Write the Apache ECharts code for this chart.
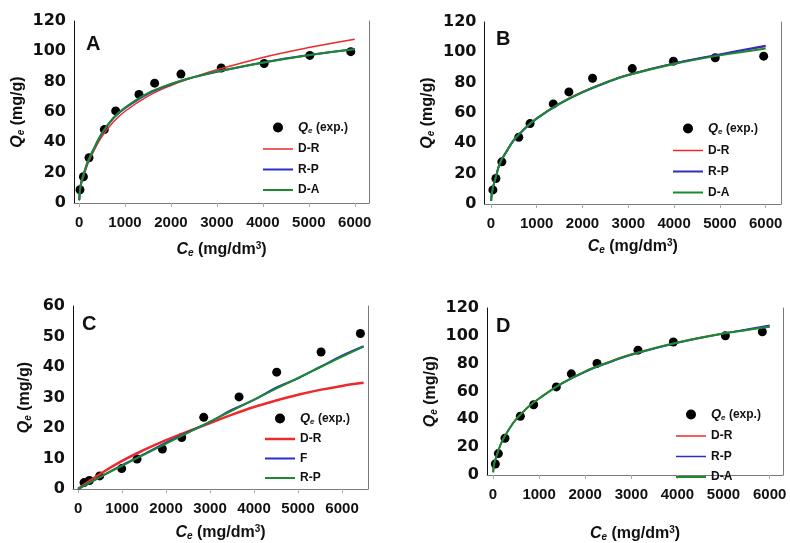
<!DOCTYPE html>
<html>
<head>
<meta charset="utf-8">
<script src="https://cdn.jsdelivr.net/npm/echarts@6/dist/echarts.min.js"></script>
<style>
  html, body { margin: 0; padding: 0; background: #fff; }
  #root { width: 790px; height: 543px; }
</style>
</head>
<body>
<div id="root"></div>
<script>
// tick labels
const ceTicks = [0, 1000, 2000, 3000, 4000, 5000, 6000]
const q120Ticks = [0, 20, 40, 60, 80, 100, 120]
const q60Ticks = [0, 10, 20, 30, 40, 50, 60]

// panel A
const aExpCe = [20, 95, 217, 550, 797, 1304, 1645, 2217, 3094, 4029, 5022, 5913]
const aExpQe = [8.7, 17.3, 29.8, 48.4, 60.7, 71.6, 79, 85, 89, 92, 97.3, 99.8]
const aFitCe = [5, 20, 50, 100, 200, 350, 500, 750, 1000, 1500, 2000, 2500, 3000, 4000, 5000, 6000]
const aDR = [1.5, 7.5, 12.5, 17.5, 26.5, 36, 44, 53.5, 60.5, 70.5, 77.5, 83, 87.8, 96, 102.5, 108]
const aRP = [2, 8.5, 14, 19, 28, 37.5, 46, 56, 62.5, 72, 78.3, 83, 86.5, 92.7, 97.6, 101.6]
const aDA = [2.2, 9, 14, 19, 28, 37.5, 46.2, 56.3, 63, 72.5, 78.5, 83, 86.7, 92.5, 97.4, 101.3]

// panel B
const bExpCe = [43, 109, 239, 609, 855, 1362, 1703, 2220, 3087, 3986, 4899, 5957]
const bExpQe = [9.3, 16.8, 27.8, 44, 53, 66, 73.9, 82.9, 89.3, 94.2, 96.4, 97.5]
const bFitCe = [5, 20, 50, 100, 200, 350, 500, 750, 1000, 1500, 2000, 2500, 3000, 4000, 5000, 6000]
const bDR = [2, 7, 11.5, 17, 27, 35, 42, 50, 56.5, 66.3, 74, 80.2, 85.3, 92.8, 98.6, 103.8]
const bRP = [2, 7, 11.5, 17, 27, 35, 42, 50, 56.3, 66, 73.6, 79.8, 85, 92.6, 98.6, 104.4]
const bDA = [2, 7, 11.5, 17, 27.2, 35.2, 42.2, 50.2, 56.5, 66.2, 73.8, 80, 85, 92.3, 98, 102.6]

// panel C
const cExpCe = [136, 258, 492, 992, 1341, 1917, 2356, 2856, 3659, 4515, 5523, 6417]
const cExpQe = [2.1, 2.8, 4.3, 6.7, 9.8, 13.1, 16.9, 23.5, 30.2, 38.3, 44.9, 51]
const cFitCe = [0, 500, 1000, 1500, 2000, 2500, 3000, 3500, 4000, 4500, 5000, 5500, 6000, 6490]
const cDR = [0, 4.9, 9.2, 12.8, 16, 18.9, 21.6, 24.4, 26.9, 29, 30.9, 32.5, 33.8, 34.8]
const cF = [0, 3.9, 7.8, 11.4, 15.2, 18.6, 22.0, 26.0, 29.2, 33.2, 36.3, 40.0, 43.7, 46.8]
const cRP = [0, 3.9, 7.6, 11.3, 14.9, 18.5, 22.1, 25.7, 29.3, 32.9, 36.4, 39.9, 43.4, 46.7]

// panel D
const dExpCe = [51, 116, 260, 593, 882, 1374, 1699, 2256, 3145, 3912, 5040, 5842]
const dExpQe = [7.9, 15.4, 26.4, 42.2, 50.5, 63.3, 72.7, 80.2, 89.7, 95.6, 100, 102.9]
const dFitCe = [5, 20, 50, 100, 200, 350, 500, 750, 1000, 1500, 2000, 2500, 3000, 4000, 5000, 6000]
const dDR = [2, 7, 11, 16, 24.5, 33, 40, 48.5, 55, 66, 74.5, 81, 86.7, 95.3, 101.8, 106.6]
const dRP = [2, 7, 11, 16, 24.5, 33, 40, 48.5, 54.8, 65.6, 74, 80.5, 86.2, 94.8, 101.6, 107.6]
const dDA = [2, 7, 11, 16, 24.5, 33, 40, 48.5, 55, 66, 74.5, 81, 86.6, 95.2, 101.6, 106.6]

const FONT = '"Liberation Sans", Arial, sans-serif'
const RED = '#ec2a2c'
const BLUE = '#2c2ec8'
const GREEN = '#1b8a2c'
const FRAME = '#7a7a7a'

const zip = (xs, ys) => xs.map((x, i) => [x, ys[i]])
// legend line icon: a bar 30 px wide and w px thick once fitted into 30x10
const lineIcon = w => 'path://M0,0L' + (60 / w).toFixed(2) + ',0L' + (60 / w).toFixed(2) + ',2L0,2Z'

const panels = [
  { key: 'A', grid: { left: 74, top: 21, width: 295, height: 182 }, xMin: -110, xMax: 6310, yMax: 120, yTicks: q120Ticks,
    letter: [86, 34], legend: [263, 121], legendGap: 8.5, nameGap: 38,
    exp: zip(aExpCe, aExpQe),
    fits: [['D-R', zip(aFitCe, aDR), RED, 1.5], ['R-P', zip(aFitCe, aRP), BLUE, 2], ['D-A', zip(aFitCe, aDA), GREEN, 2]] },
  { key: 'B', grid: { left: 484.5, top: 22, width: 296.5, height: 182 }, xMin: -140, xMax: 6335, yMax: 120, yTicks: q120Ticks,
    letter: [496, 29], legend: [673, 122], legendGap: 9, nameGap: 34,
    exp: zip(bExpCe, bExpQe),
    fits: [['D-R', zip(bFitCe, bDR), RED, 1.5], ['R-P', zip(bFitCe, bRP), BLUE, 2], ['D-A', zip(bFitCe, bDA), GREEN, 2]] },
  { key: 'C', grid: { left: 73, top: 306, width: 295, height: 183 }, xMin: -115, xMax: 6590, yMax: 60, yTicks: q60Ticks,
    letter: [82, 314], legend: [265, 412], legendGap: 7.5, nameGap: 35,
    exp: zip(cExpCe, cExpQe),
    fits: [['D-R', zip(cFitCe, cDR), RED, 2.5], ['F', zip(cFitCe, cF), BLUE, 2], ['R-P', zip(cFitCe, cRP), GREEN, 2]] },
  { key: 'D', grid: { left: 487, top: 308, width: 296, height: 181.5 }, xMin: -130, xMax: 6290, yMax: 120, yTicks: q120Ticks,
    letter: [496, 316], legend: [676, 408], legendGap: 8.5, nameGap: 50,
    exp: zip(dExpCe, dExpQe),
    fits: [['D-R', zip(dFitCe, dDR), RED, 1.5], ['R-P', zip(dFitCe, dRP), BLUE, 1.5], ['D-A', zip(dFitCe, dDA), GREEN, 2]] }
]

const nameRich = {
  q: { fontFamily: FONT, fontSize: 16, fontWeight: 'bold', fontStyle: 'italic', color: '#111' },
  s: { fontFamily: FONT, fontSize: 10, fontWeight: 'bold', fontStyle: 'italic', color: '#111', padding: [7, 0, 0, 0] },
  p: { fontFamily: FONT, fontSize: 10, fontWeight: 'bold', color: '#111', padding: [0, 0, 7, 0] },
  t: { fontFamily: FONT, fontSize: 16, fontWeight: 'bold', color: '#111' }
}

const grid = [], xAxis = [], yAxis = [], series = [], legend = [], title = []

panels.forEach((p, i) => {
  grid.push(Object.assign({ containLabel: false }, p.grid))
  title.push({
    text: p.key, left: p.letter[0], top: p.letter[1], padding: 0,
    textStyle: { fontFamily: FONT, fontSize: 20, fontWeight: 'bold', color: '#111' }
  })
  xAxis[i] = {
    type: 'value', gridIndex: i, position: 'bottom', min: p.xMin, max: p.xMax,
    axisLine: { show: false },
    axisTick: { show: true, inside: false, length: 4, lineStyle: { color: '#aaa' }, customValues: ceTicks },
    axisLabel: { customValues: ceTicks, formatter: v => String(v), margin: 12, fontFamily: FONT, fontSize: 15, fontWeight: 'bold', color: '#111' },
    splitLine: { show: false },
    name: '{q|C}{s|e}{t| (mg/dm}{p|3}{t|)}', nameLocation: 'middle', nameGap: p.nameGap,
    nameTextStyle: { rich: nameRich }
  }
  xAxis[i + 4] = {
    type: 'value', gridIndex: i, position: 'top', min: p.xMin, max: p.xMax,
    axisLine: { show: true, lineStyle: { color: FRAME, width: 1 } },
    axisTick: { show: false }, axisLabel: { show: false }, splitLine: { show: false }
  }
  yAxis[i] = {
    type: 'value', gridIndex: i, position: 'left', min: 0, max: p.yMax, interval: p.yTicks[1] - p.yTicks[0],
    axisLine: { show: true, onZero: false, lineStyle: { color: '#111', width: 1 } },
    axisTick: { show: false },
    axisLabel: { margin: 8, fontFamily: '"DejaVu Sans", sans-serif', fontSize: 16, fontWeight: 'bold', color: '#111' },
    splitLine: { show: false },
    name: '{q|Q}{s|e}{t| (mg/g)}', nameLocation: 'middle', nameGap: i === 2 ? 40 : 48,
    nameTextStyle: { rich: nameRich }
  }
  yAxis[i + 4] = {
    type: 'value', gridIndex: i, position: 'right', min: 0, max: p.yMax,
    axisLine: { show: true, onZero: false, lineStyle: { color: FRAME, width: 1 } },
    axisTick: { show: false }, axisLabel: { show: false }, splitLine: { show: false }
  }

  const names = []
  series.push({
    name: p.key + '|exp', type: 'scatter', xAxisIndex: i, yAxisIndex: i,
    symbol: 'circle', symbolSize: 9, itemStyle: { color: '#000', opacity: 1 }, data: p.exp, z: 2
  })
  names.push({ name: p.key + '|exp', icon: 'circle', itemStyle: { color: '#000', borderWidth: 0 } })
  p.fits.forEach(f => {
    series.push({
      name: p.key + '|' + f[0], type: 'line', xAxisIndex: i, yAxisIndex: i,
      smooth: 0.4, showSymbol: false, symbol: 'none', data: f[1], z: 3,
      lineStyle: { color: f[2], width: f[3] }, itemStyle: { color: f[2] }
    })
    names.push({ name: p.key + '|' + f[0], icon: lineIcon(f[3]), itemStyle: { color: f[2], borderWidth: 0 } })
  })

  legend.push({
    data: names, orient: 'vertical', left: p.legend[0], top: p.legend[1], padding: 0,
    itemWidth: 30, itemHeight: 10, itemGap: p.legendGap, selectedMode: false, symbolKeepAspect: true,
    formatter: n => n.endsWith('|exp') ? '{q|Q}{s|e}{t| (exp.)}' : n.split('|')[1],
    textStyle: {
      fontFamily: FONT, fontSize: 12, fontWeight: 'bold', color: '#111',
      rich: {
        q: { fontFamily: FONT, fontSize: 13, fontWeight: 'bold', fontStyle: 'italic', color: '#111' },
        s: { fontFamily: FONT, fontSize: 8, fontWeight: 'bold', fontStyle: 'italic', color: '#111', padding: [6, 0, 0, 0] },
        t: { fontFamily: FONT, fontSize: 12, fontWeight: 'bold', color: '#111' }
      }
    }
  })
})

const chart = echarts.init(document.getElementById('root'), null, { renderer: 'canvas' })
chart.setOption({
  backgroundColor: '#fff',
  animation: false,
  title, grid, xAxis, yAxis, legend, series
})
</script>
</body>
</html>
